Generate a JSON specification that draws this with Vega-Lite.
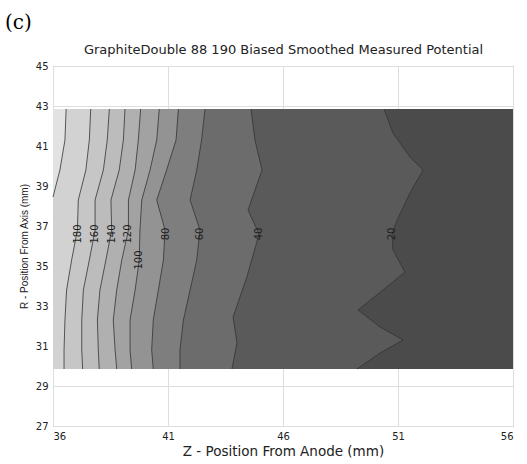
{
  "$schema": "https://vega.github.io/schema/vega-lite/v6.json",
  "width": 460,
  "height": 360,
  "autosize": "none",
  "padding": {"left": 53, "top": 66, "right": 14, "bottom": 38},
  "title": {"text": "(c)", "anchor": "start", "frame": "group", "font": "DejaVu Serif", "fontSize": 20, "fontWeight": "normal", "color": "#000000", "dx": -48, "offset": 10},
  "datasets": {
    "contours": [
      {"level": "edge", "x": 56, "y": 42.85}, {"level": "edge", "x": 56, "y": 29.85},
      {"level": "L0", "x": 36.57, "y": 42.85}, {"level": "L0", "x": 36.52, "y": 41.3}, {"level": "L0", "x": 36.30, "y": 39.8}, {"level": "L0", "x": 36.0, "y": 38.45},
      {"level": "L1", "x": 37.64, "y": 42.85}, {"level": "L1", "x": 37.58, "y": 41.3}, {"level": "L1", "x": 37.43, "y": 39.8}, {"level": "L1", "x": 37.10, "y": 38.3}, {"level": "L1", "x": 37.06, "y": 36.8}, {"level": "L1", "x": 36.81, "y": 35.3}, {"level": "L1", "x": 36.59, "y": 33.8}, {"level": "L1", "x": 36.52, "y": 32.3}, {"level": "L1", "x": 36.48, "y": 30.8}, {"level": "L1", "x": 36.48, "y": 29.85},
      {"level": "L2", "x": 38.45, "y": 42.85}, {"level": "L2", "x": 38.36, "y": 41.3}, {"level": "L2", "x": 38.19, "y": 39.8}, {"level": "L2", "x": 37.83, "y": 38.3}, {"level": "L2", "x": 37.83, "y": 36.8}, {"level": "L2", "x": 37.58, "y": 35.3}, {"level": "L2", "x": 37.32, "y": 33.8}, {"level": "L2", "x": 37.25, "y": 32.3}, {"level": "L2", "x": 37.25, "y": 30.8}, {"level": "L2", "x": 37.29, "y": 29.85},
      {"level": "L3", "x": 39.13, "y": 42.85}, {"level": "L3", "x": 39.06, "y": 41.3}, {"level": "L3", "x": 38.88, "y": 39.8}, {"level": "L3", "x": 38.52, "y": 38.3}, {"level": "L3", "x": 38.55, "y": 36.8}, {"level": "L3", "x": 38.30, "y": 35.3}, {"level": "L3", "x": 38.04, "y": 33.8}, {"level": "L3", "x": 37.93, "y": 32.3}, {"level": "L3", "x": 37.97, "y": 30.8}, {"level": "L3", "x": 38.01, "y": 29.85},
      {"level": "L4", "x": 39.81, "y": 42.85}, {"level": "L4", "x": 39.71, "y": 41.3}, {"level": "L4", "x": 39.57, "y": 39.8}, {"level": "L4", "x": 39.28, "y": 38.3}, {"level": "L4", "x": 39.28, "y": 36.8}, {"level": "L4", "x": 38.99, "y": 35.3}, {"level": "L4", "x": 38.77, "y": 33.8}, {"level": "L4", "x": 38.62, "y": 32.3}, {"level": "L4", "x": 38.70, "y": 30.8}, {"level": "L4", "x": 38.77, "y": 29.85},
      {"level": "L5", "x": 40.62, "y": 42.85}, {"level": "L5", "x": 40.51, "y": 41.3}, {"level": "L5", "x": 40.22, "y": 39.8}, {"level": "L5", "x": 39.86, "y": 38.3}, {"level": "L5", "x": 39.78, "y": 36.8}, {"level": "L5", "x": 39.75, "y": 35.3}, {"level": "L5", "x": 39.57, "y": 33.8}, {"level": "L5", "x": 39.35, "y": 32.3}, {"level": "L5", "x": 39.35, "y": 30.8}, {"level": "L5", "x": 39.42, "y": 29.85},
      {"level": "L6", "x": 41.45, "y": 42.85}, {"level": "L6", "x": 41.35, "y": 41.3}, {"level": "L6", "x": 40.94, "y": 39.8}, {"level": "L6", "x": 40.51, "y": 38.3}, {"level": "L6", "x": 40.87, "y": 36.8}, {"level": "L6", "x": 40.80, "y": 35.3}, {"level": "L6", "x": 40.58, "y": 33.8}, {"level": "L6", "x": 40.36, "y": 32.3}, {"level": "L6", "x": 40.29, "y": 30.8}, {"level": "L6", "x": 40.36, "y": 29.85},
      {"level": "L7", "x": 42.61, "y": 42.85}, {"level": "L7", "x": 42.46, "y": 41.3}, {"level": "L7", "x": 42.25, "y": 39.8}, {"level": "L7", "x": 41.96, "y": 38.3}, {"level": "L7", "x": 42.39, "y": 36.8}, {"level": "L7", "x": 42.25, "y": 35.3}, {"level": "L7", "x": 41.96, "y": 33.8}, {"level": "L7", "x": 41.67, "y": 32.3}, {"level": "L7", "x": 41.52, "y": 30.8}, {"level": "L7", "x": 41.52, "y": 29.85},
      {"level": "L8", "x": 44.61, "y": 42.85}, {"level": "L8", "x": 44.78, "y": 41.3}, {"level": "L8", "x": 45.09, "y": 39.8}, {"level": "L8", "x": 44.48, "y": 37.8}, {"level": "L8", "x": 44.96, "y": 36.6}, {"level": "L8", "x": 44.43, "y": 34.45}, {"level": "L8", "x": 43.83, "y": 32.45}, {"level": "L8", "x": 44.0, "y": 31.15}, {"level": "L8", "x": 43.78, "y": 29.85},
      {"level": "L9", "x": 50.39, "y": 42.85}, {"level": "L9", "x": 50.78, "y": 41.65}, {"level": "L9", "x": 51.52, "y": 40.45}, {"level": "L9", "x": 52.09, "y": 39.8}, {"level": "L9", "x": 51.52, "y": 38.65}, {"level": "L9", "x": 50.96, "y": 37.3}, {"level": "L9", "x": 50.74, "y": 36.6}, {"level": "L9", "x": 50.78, "y": 35.8}, {"level": "L9", "x": 51.30, "y": 34.7}, {"level": "L9", "x": 50.35, "y": 33.8}, {"level": "L9", "x": 49.26, "y": 32.8}, {"level": "L9", "x": 50.22, "y": 31.95}, {"level": "L9", "x": 51.22, "y": 31.3}, {"level": "L9", "x": 50.22, "y": 30.65}, {"level": "L9", "x": 49.22, "y": 29.85}
    ],
    "labels": [
      {"t": "180", "x": 37.08, "y": 36.6},
      {"t": "160", "x": 37.83, "y": 36.6},
      {"t": "140", "x": 38.55, "y": 36.6},
      {"t": "120", "x": 39.28, "y": 36.6},
      {"t": "100", "x": 39.76, "y": 35.3},
      {"t": "80", "x": 40.9, "y": 36.6},
      {"t": "60", "x": 42.4, "y": 36.6},
      {"t": "40", "x": 44.96, "y": 36.6},
      {"t": "20", "x": 50.74, "y": 36.6}
    ]
  },
  "data": {"name": "contours"},
  "encoding": {
    "x": {"field": "x", "type": "quantitative", "scale": {"domain": [36, 56], "nice": false, "zero": false}, "axis": null},
    "y": {"field": "y", "type": "quantitative", "scale": {"domain": [27, 45], "nice": false, "zero": false},
      "axis": {"values": [27, 29, 31, 33, 35, 37, 39, 41, 43, 45], "title": "R - Position From Axis (mm)", "labelPadding": 5, "titlePadding": 6, "grid": true, "titleFont": "Liberation Sans", "titleFontSize": 10}}
  },
  "layer": [
    {"transform": [{"filter": "datum.level === 'edge'"}], "mark": {"type": "area", "orient": "horizontal", "fill": "#4b4b4b"},
      "encoding": {"x": {"field": "x", "type": "quantitative", "scale": {"domain": [36, 56], "nice": false, "zero": false},
        "axis": {"values": [36, 41, 46, 51, 56], "title": "Z - Position From Anode (mm)", "labelPadding": 5, "titlePadding": 3, "grid": true, "titleFont": "DejaVu Sans", "titleFontSize": 13.5}}, "x2": {"datum": 36}}},
    {"transform": [{"filter": "datum.level === 'L9'"}], "mark": {"type": "area", "orient": "horizontal", "fill": "#5a5a5a"}, "encoding": {"x2": {"datum": 36}}},
    {"transform": [{"filter": "datum.level === 'L8'"}], "mark": {"type": "area", "orient": "horizontal", "fill": "#6c6c6c"}, "encoding": {"x2": {"datum": 36}}},
    {"transform": [{"filter": "datum.level === 'L7'"}], "mark": {"type": "area", "orient": "horizontal", "fill": "#7e7e7e"}, "encoding": {"x2": {"datum": 36}}},
    {"transform": [{"filter": "datum.level === 'L6'"}], "mark": {"type": "area", "orient": "horizontal", "fill": "#939393"}, "encoding": {"x2": {"datum": 36}}},
    {"transform": [{"filter": "datum.level === 'L5'"}], "mark": {"type": "area", "orient": "horizontal", "fill": "#a2a2a2"}, "encoding": {"x2": {"datum": 36}}},
    {"transform": [{"filter": "datum.level === 'L4'"}], "mark": {"type": "area", "orient": "horizontal", "fill": "#b0b0b0"}, "encoding": {"x2": {"datum": 36}}},
    {"transform": [{"filter": "datum.level === 'L3'"}], "mark": {"type": "area", "orient": "horizontal", "fill": "#bcbcbc"}, "encoding": {"x2": {"datum": 36}}},
    {"transform": [{"filter": "datum.level === 'L2'"}], "mark": {"type": "area", "orient": "horizontal", "fill": "#c6c6c6"}, "encoding": {"x2": {"datum": 36}}},
    {"transform": [{"filter": "datum.level === 'L1'"}], "mark": {"type": "area", "orient": "horizontal", "fill": "#d2d2d2"}, "encoding": {"x2": {"datum": 36}}},
    {"transform": [{"filter": "datum.level === 'L0'"}], "mark": {"type": "area", "orient": "horizontal", "fill": "#e2e2e2"}, "encoding": {"x2": {"datum": 36}}},
    {"transform": [{"filter": "datum.level !== 'edge'"}], "mark": {"type": "line", "stroke": "#333333", "strokeWidth": 0.8},
      "encoding": {"detail": {"field": "level"}, "order": {"field": "y", "type": "quantitative"}}},
    {"data": {"name": "labels"}, "mark": {"type": "text", "angle": 270, "fontSize": 10, "font": "DejaVu Sans", "color": "#1e1e1e"},
      "encoding": {"text": {"field": "t"},
        "x": {"field": "x", "type": "quantitative", "scale": {"domain": [36, 56], "nice": false, "zero": false},
          "axis": {"orient": "top", "labels": false, "ticks": false, "grid": false, "domain": false, "title": "GraphiteDouble 88 190 Biased Smoothed Measured Potential", "titlePadding": 10, "titleFont": "DejaVu Sans", "titleFontSize": 13}}}}
  ],
  "resolve": {"axis": {"x": "independent"}},
  "config": {
    "view": {"stroke": "#8c8c8c", "strokeWidth": 1},
    "font": "DejaVu Sans",
    "axis": {"labelFont": "DejaVu Sans", "labelFontSize": 10, "labelColor": "#222222", "titleFont": "DejaVu Sans", "titleFontSize": 12.5, "titleFontWeight": "normal", "titleColor": "#222222", "gridColor": "#dedede", "domain": false, "ticks": false}
  }
}
